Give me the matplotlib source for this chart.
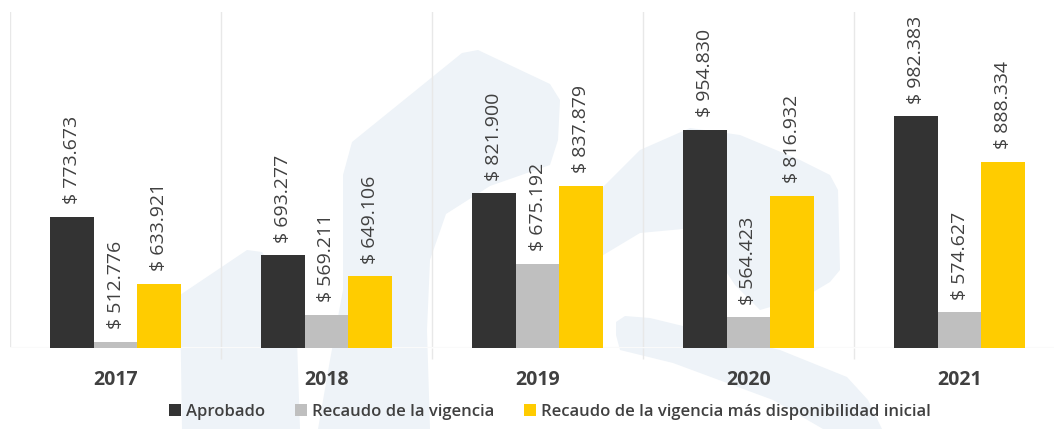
import matplotlib.pyplot as plt
from matplotlib.patches import Polygon
import numpy as np

plt.rcParams['font.family'] = ['Open Sans', 'DejaVu Sans']

years = ['2017', '2018', '2019', '2020', '2021']
series = ['Aprobado', 'Recaudo de la vigencia',
          'Recaudo de la vigencia más disponibilidad inicial']
aprobado = [773.673, 693.277, 821.900, 954.830, 982.383]
recaudo = [512.776, 569.211, 675.192, 564.423, 574.627]
recaudo_disp = [633.921, 649.106, 837.879, 816.932, 888.334]
colors = ['#333333', '#BFBFBF', '#FFCC00']
text_color = '#404040'

W, H = 1054, 429
fig = plt.figure(figsize=(W / 100, H / 100), dpi=100)

# light background emblem, drawn in pixel units on a full-figure axes
bg = fig.add_axes([0, 0, 1, 1], zorder=0)
bg.set_xlim(0, W)
bg.set_ylim(H, 0)
bg.axis('off')
shade = '#EEF3F8'
emblem = [
    [(182, 429), (180, 295), (247, 250), (262, 252), (282, 280), (297, 340),
     (300, 429)],
    [(318, 429), (330, 360), (343, 290), (343, 175), (352, 142), (462, 53),
     (478, 50), (550, 84), (560, 100), (558, 140), (550, 165), (490, 186),
     (446, 214), (430, 260), (427, 330), (430, 429)],
    [(565, 290), (575, 240), (600, 190), (640, 150), (690, 128), (740, 135),
     (800, 160), (830, 175), (838, 190), (840, 270), (830, 282), (805, 297),
     (760, 310), (735, 285), (715, 255), (683, 229), (640, 233), (600, 257),
     (580, 285)],
    [(616, 322), (625, 316), (650, 318), (720, 335), (780, 350), (847, 377),
     (868, 400), (882, 429), (823, 429), (773, 400), (673, 363), (620, 350),
     (616, 335)],
]
for pts in emblem:
    bg.add_patch(Polygon(pts, closed=True, facecolor=shade, edgecolor='none'))

ax = fig.add_axes([10 / W, 81 / H, 1055 / W, 336 / H], zorder=1)
ax.set_facecolor('none')

x = np.arange(len(years))
width = 0.2085
for k, (vals, name) in enumerate(zip([aprobado, recaudo, recaudo_disp], series)):
    pos = x + (k - 1) * width
    ax.bar(pos, vals, width, bottom=0, color=colors[k], label=name, zorder=3)
    for xp, v in zip(pos, vals):
        ax.annotate('$ ' + f'{v:.3f}', (xp, v), xytext=(0, 9),
                    textcoords='offset points', rotation=90, ha='center',
                    va='bottom', fontsize=14, color=text_color, zorder=4)

ax.set_ylim(500, 1200)
ax.set_xlim(-0.5, len(years) - 0.5)

# group separators and baseline
for b in np.arange(-0.5, len(years), 1.0):
    ax.axvline(b, color='#E8E8E8', lw=1, zorder=1)
ax.axhline(500, color='#FAFAFA', lw=1.5, zorder=2)

for s in ax.spines.values():
    s.set_visible(False)
ax.set_yticks([])
ax.set_xticks(x)
ax.set_xticklabels(years, fontsize=14, fontweight='bold', color=text_color)
ax.tick_params(axis='x', length=0, pad=16)
ax.set_xticks(np.arange(0.5, len(years) - 1, 1.0), minor=True)
ax.tick_params(axis='x', which='minor', length=8, color='#E8E8E8', width=1)

handles, labels = ax.get_legend_handles_labels()
leg = fig.legend(handles, labels, loc='center', bbox_to_anchor=(550 / W, 1 - 412 / H),
                 ncol=3, frameon=False, handlelength=0.75, handleheight=0.75,
                 handletextpad=0.3, columnspacing=1.75,
                 prop={'size': 12, 'weight': 'semibold'})
for t in leg.get_texts():
    t.set_color(text_color)

fig.savefig('out.png', dpi=100)
